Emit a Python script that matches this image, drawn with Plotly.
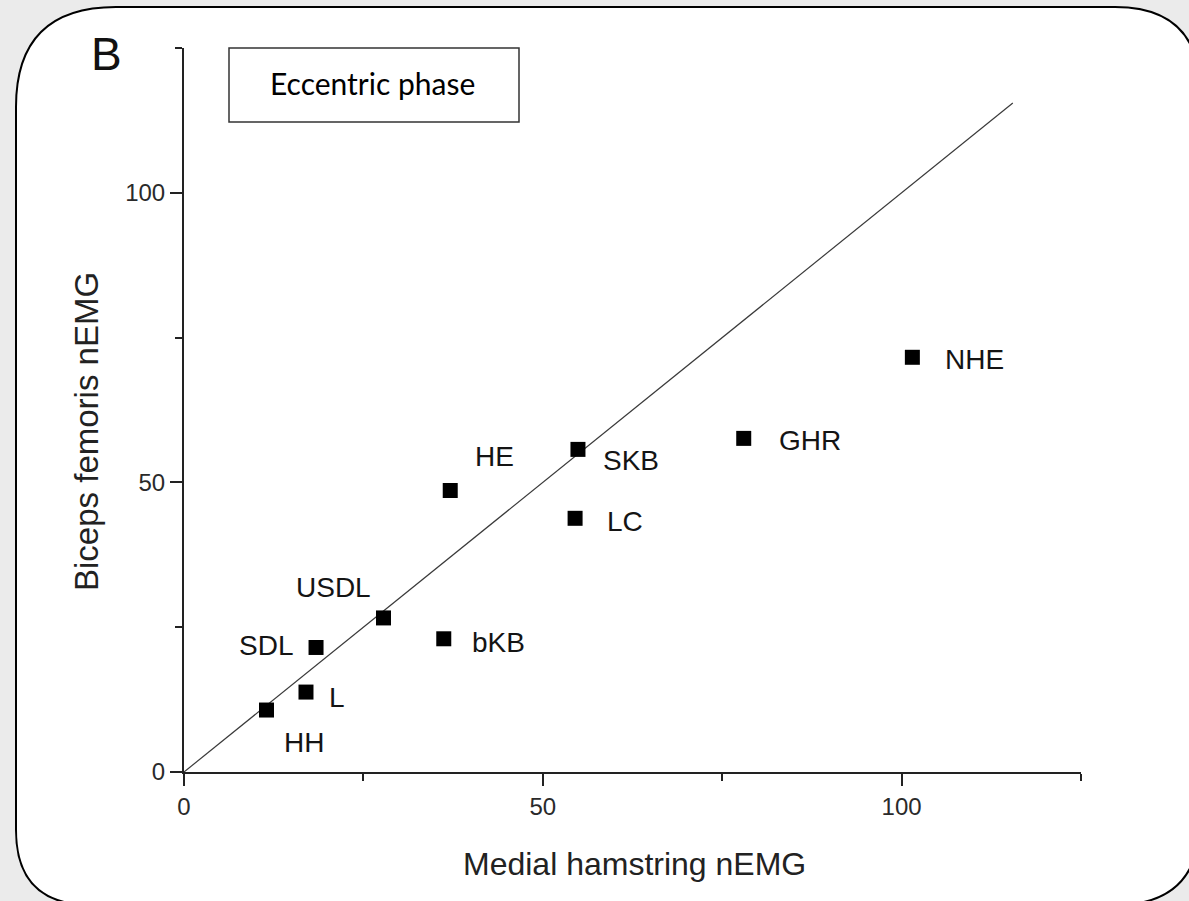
import plotly.graph_objects as go

# ---- data ----
exercises = ["HH", "L", "SDL", "USDL", "bKB", "HE", "SKB", "LC", "GHR", "NHE"]
medial_hamstring = [11.5, 17.0, 18.4, 27.8, 36.2, 37.1, 54.9, 54.5, 78.0, 101.5]
biceps_femoris = [10.7, 13.8, 21.5, 26.6, 23.0, 48.6, 55.7, 43.8, 57.6, 71.6]
identity_x = [0, 115.5]
identity_y = [0, 115.5]
x_ticks = [0, 50, 100]
y_ticks = [0, 50, 100]

# label offsets in pixels (dx right, dy up)
label_dx = [37, 31, -50, -50, 55, 44, 53, 50, 66, 62]
label_dy = [-32, -5, 2, 30, -4, 34, -11, -3, -2, -2]

W, H = 1189, 901
ML, MR, MT, MB = 184, 108, 48, 129
PW, PH = W - ML - MR, H - MT - MB


def px(xpix):
    return (xpix - ML) / PW


def py(ypix):
    return (H - MB - ypix) / PH


FONT = "Liberation Sans, Arial, sans-serif"

fig = go.Figure()

fig.add_trace(go.Scatter(x=identity_x, y=identity_y, mode="lines",
                         line=dict(color="#3a3a3a", width=1.2),
                         hoverinfo="skip", showlegend=False))
fig.add_trace(go.Scatter(x=medial_hamstring, y=biceps_femoris, mode="markers",
                         marker=dict(symbol="square", size=15, color="#000000"),
                         text=exercises, showlegend=False))

annotations = []
for name, xv, yv, dx, dy in zip(exercises, medial_hamstring, biceps_femoris, label_dx, label_dy):
    annotations.append(dict(x=xv, y=yv, xref="x", yref="y", text=name, showarrow=False,
                            xshift=dx, yshift=dy, xanchor="center", yanchor="middle",
                            font=dict(family=FONT, size=28, color="#141414")))

# axis titles
annotations.append(dict(x=px(634), y=py(864), xref="paper", yref="paper",
                        text="Medial hamstring nEMG", showarrow=False,
                        xanchor="center", yanchor="middle",
                        font=dict(family=FONT, size=32, color="#222222")))
annotations.append(dict(x=px(86), y=py(432), xref="paper", yref="paper",
                        text="Biceps femoris nEMG", showarrow=False, textangle=-90,
                        xanchor="center", yanchor="middle",
                        font=dict(family=FONT, size=33, color="#222222")))
# panel letter
annotations.append(dict(x=px(106), y=py(54), xref="paper", yref="paper",
                        text="B", showarrow=False, xanchor="center", yanchor="middle",
                        font=dict(family=FONT, size=46, color="#111111")))
# phase box text
annotations.append(dict(x=px(372), y=py(83), xref="paper", yref="paper",
                        text="Eccentric phase", showarrow=False, xanchor="center", yanchor="middle",
                        font=dict(family="Lato, Open Sans, sans-serif", size=30, color="#000000")))

# rounded frame
L, T, R, B = 16, 7, 1200, 905
r_tl, r_tr, r_br, r_bl = 100, 85, 85, 75
path = (
    f"M {px(L)},{py(T + r_tl)} "
    f"Q {px(L)},{py(T)} {px(L + r_tl)},{py(T)} "
    f"L {px(R - r_tr)},{py(T)} "
    f"Q {px(R)},{py(T)} {px(R)},{py(T + r_tr)} "
    f"L {px(R)},{py(B - r_br)} "
    f"Q {px(R)},{py(B)} {px(R - r_br)},{py(B)} "
    f"L {px(L + r_bl)},{py(B)} "
    f"Q {px(L)},{py(B)} {px(L)},{py(B - r_bl)} Z"
)
shapes = [
    dict(type="path", path=path, xref="paper", yref="paper", layer="below",
         fillcolor="#ffffff", line=dict(color="#000000", width=2)),
    dict(type="rect", xref="paper", yref="paper", x0=px(229), x1=px(519), y0=py(48), y1=py(122),
         fillcolor="rgba(255,255,255,0)", line=dict(color="#333333", width=1.5)),
]

axis_common = dict(range=[0, 125], showgrid=False, zeroline=False, showline=True,
                   linecolor="#222222", linewidth=2, ticks="outside", ticklen=12,
                   tickwidth=2, tickcolor="#222222",
                   tickfont=dict(family=FONT, size=24, color="#2a2a2a"),
                   minor=dict(dtick=25, tick0=0, ticks="outside", ticklen=7, tickwidth=1.5,
                              tickcolor="#222222", showgrid=False))

fig.update_xaxes(**axis_common, tickvals=x_ticks, ticktext=[str(v) for v in x_ticks])
fig.update_yaxes(**axis_common, tickvals=y_ticks, ticktext=[str(v) for v in y_ticks])

fig.update_layout(width=W, height=H, margin=dict(l=ML, r=MR, t=MT, b=MB),
                  paper_bgcolor="#ebebeb", plot_bgcolor="rgba(0,0,0,0)",
                  annotations=annotations, shapes=shapes, showlegend=False)

fig.write_html("out.html")
